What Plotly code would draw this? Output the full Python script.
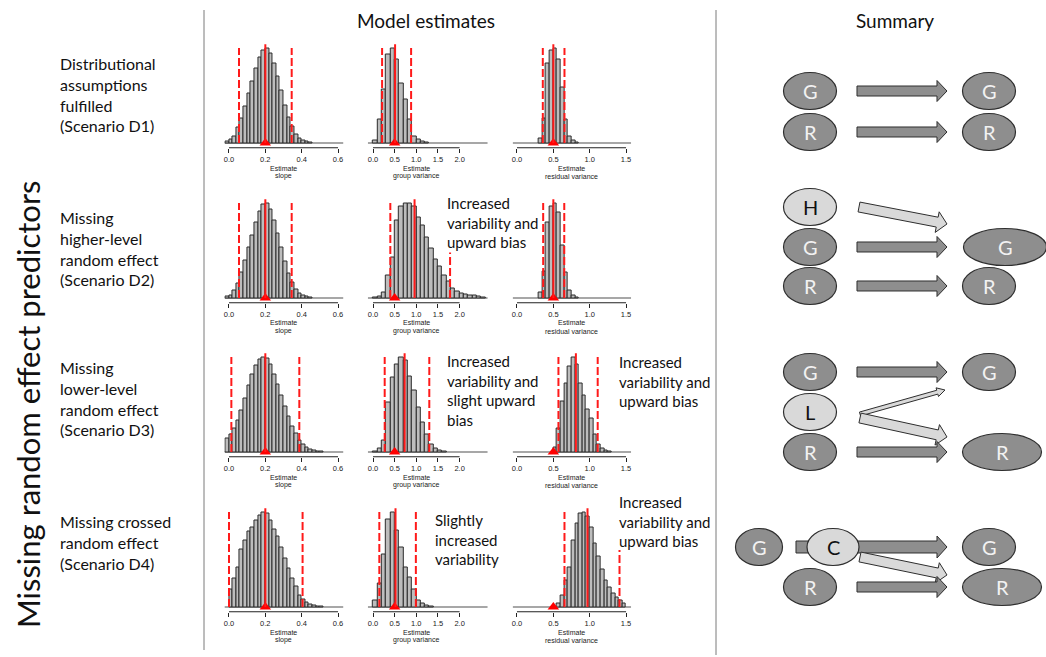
import math
import plotly.graph_objects as go

W, H = 1046, 657

# ---------------- data ----------------
scenarios = ["D1", "D2", "D3", "D4"]
param_labels = ["slope", "group variance", "residual variance"]
bin_width = [0.02, 0.1, 0.05]

# relative bin heights (left edge of first bin given separately)
d1_slope_start = -0.02
d1_slope = [2, 4, 7, 16, 26, 38, 52, 65, 78, 90, 97, 100, 94, 84, 70, 55, 40, 27, 17, 9, 5, 3, 1.5, 1]
d2_slope_start = -0.02
d2_slope = [2, 3, 8, 15, 27, 40, 53, 66, 80, 91, 98, 100, 93, 82, 68, 53, 38, 26, 16, 9, 5, 2.5, 1.5, 1]
d3_slope_start = -0.02
d3_slope = [14, 18, 25, 33, 44, 56, 70, 82, 91, 97, 100, 98, 92, 82, 71, 60, 48, 37, 27, 19, 12, 8, 5, 3, 2, 1, 0.5]
d4_slope_start = 0.0
d4_slope = [18, 30, 42, 61, 70, 79, 84, 91, 96, 100, 98, 91, 82, 74, 63, 51, 41, 30, 22, 12, 8, 5, 3, 1.5, 1, 1]

d1_group_start = 0.0
d1_group = [3, 25, 56, 93, 100, 88, 63, 46, 25, 7, 4, 2, 1]
d2_group_start = 0.0
d2_group = [1, 2, 6, 24, 43, 82, 96, 100, 99, 96, 85, 76, 64, 52, 41, 33, 24, 17, 10, 7, 5, 4, 3, 2.5, 2, 1]
d3_group_start = 0.0
d3_group = [1, 4, 12, 52, 78, 92, 100, 96, 80, 65, 47, 31, 18, 8, 4, 2, 1]
d4_group_start = 0.0
d4_group = [7, 25, 55, 92, 100, 81, 63, 42, 31, 18, 7, 4, 2, 1]

d1_resid_start = 0.30
d1_resid = [5, 26, 84, 97, 100, 88, 58, 25, 7, 3, 1]
d2_resid_start = 0.30
d2_resid = [6, 28, 80, 96, 100, 90, 55, 27, 8, 3, 1]
d3_resid_start = 0.50
d3_resid = [5, 25, 53, 72, 90, 100, 92, 72, 60, 45, 35, 18, 8, 4, 2, 1]
d4_resid_start = 0.55
d4_resid = [4, 12, 28, 42, 70, 88, 98, 100, 95, 84, 67, 53, 39, 28, 21, 14, 10, 7, 4]

true_values = [0.2, 0.5, 0.5]
mean_estimates = [[0.2, 0.51, 0.5], [0.2, 0.96, 0.5], [0.2, 0.73, 0.81], [0.2, 0.52, 0.97]]
lower_q = [[0.055, 0.21, 0.355], [0.055, 0.40, 0.36], [0.013, 0.27, 0.57], [0.0, 0.146, 0.653]]
upper_q = [[0.345, 0.88, 0.653], [0.345, 1.78, 0.65], [0.387, 1.30, 1.11], [0.405, 0.99, 1.41]]
upper_q_height = [[100, 100, 100], [100, 48, 100], [100, 100, 100], [100, 100, 60]]

tick_vals = [[0, 0.2, 0.4, 0.6], [0, 0.5, 1.0, 1.5, 2.0], [0, 0.5, 1.0, 1.5]]
tick_text = [["0.0", "0.2", "0.4", "0.6"], ["0.0", "0.5", "1.0", "1.5", "2.0"], ["0.0", "0.5", "1.0", "1.5"]]

hist_data = [
    [(d1_slope_start, d1_slope), (d1_group_start, d1_group), (d1_resid_start, d1_resid)],
    [(d2_slope_start, d2_slope), (d2_group_start, d2_group), (d2_resid_start, d2_resid)],
    [(d3_slope_start, d3_slope), (d3_group_start, d3_group), (d3_resid_start, d3_resid)],
    [(d4_slope_start, d4_slope), (d4_group_start, d4_group), (d4_resid_start, d4_resid)],
]

row_labels = [
    "Distributional<br>assumptions<br>fulfilled<br>(Scenario D1)",
    "Missing<br>higher-level<br>random effect<br>(Scenario D2)",
    "Missing<br>lower-level<br>random effect<br>(Scenario D3)",
    "Missing crossed<br>random effect<br>(Scenario D4)",
]

# ---------------- layout geometry (pixels) ----------------
col_zero_px = [229, 373, 517]
col_scale = [181.7, 43.3, 72.7]
col_range = [[-0.025, 0.63], [-0.12, 2.65], [-0.06, 1.57]]
row_base_px = [143, 298, 452, 607]
PX_PER_UNIT = 0.95
Y_LO, Y_HI = -5.0, 110.0

FONT_TXT = "Lato"
FONT_AX = "Liberation Sans"


def px_x(p):
    return p / W


def px_y(p):
    return 1 - p / H


def text(txt, xp, yp, size, color="#111", family=FONT_TXT, xanchor="center", angle=0, align="center"):
    annotations.append(dict(text=txt, x=px_x(xp), y=px_y(yp), xref="paper", yref="paper",
                            xanchor=xanchor, yanchor="middle", align=align, showarrow=False,
                            textangle=angle, font=dict(family=family, size=size, color=color)))


fig = go.Figure()
shapes = []
annotations = []
layout_axes = {}

for r in range(4):
    B = row_base_px[r]
    for c in range(3):
        k = r * 3 + c + 1
        xa = "x" if k == 1 else f"x{k}"
        ya = "y" if k == 1 else f"y{k}"
        lo, hi = col_range[c]
        x0p = col_zero_px[c] + col_scale[c] * lo
        x1p = col_zero_px[c] + col_scale[c] * hi
        y_bot = B - Y_LO * PX_PER_UNIT
        y_top = B - Y_HI * PX_PER_UNIT
        layout_axes["xaxis" if k == 1 else f"xaxis{k}"] = dict(
            domain=[px_x(x0p), px_x(x1p)], range=[lo, hi], anchor=ya,
            tickvals=tick_vals[c], ticktext=tick_text[c], ticks="outside",
            ticklen=4, tickwidth=1, tickcolor="#222", showgrid=False, zeroline=False,
            showline=False, tickfont=dict(family=FONT_AX, size=7.5, color="#222"),
            fixedrange=True,
        )
        layout_axes["yaxis" if k == 1 else f"yaxis{k}"] = dict(
            domain=[px_y(y_bot), px_y(y_top)], range=[Y_LO, Y_HI], anchor=xa,
            visible=False, fixedrange=True,
        )
        start, heights = hist_data[r][c]
        bw = bin_width[c]
        centers = [start + bw * (i + 0.5) for i in range(len(heights))]
        fig.add_trace(go.Bar(
            x=centers, y=heights, width=bw, xaxis=xa, yaxis=ya,
            marker=dict(color="#bdbdbd", line=dict(color="#2b2b2b", width=1)),
            hoverinfo="skip",
        ))
        # baseline
        shapes.append(dict(type="line", xref=xa, yref=ya, x0=lo, x1=hi, y0=0, y1=0,
                           line=dict(color="#8a8a8a", width=1.3), layer="below"))
        # axis line from first to last tick
        shapes.append(dict(type="line", xref=xa, yref="paper", x0=tick_vals[c][0], x1=tick_vals[c][-1],
                           y0=px_y(y_bot), y1=px_y(y_bot), line=dict(color="#222", width=1)))
        # red lines
        shapes.append(dict(type="line", xref=xa, yref=ya, x0=lower_q[r][c], x1=lower_q[r][c], y0=0, y1=100,
                           line=dict(color="#ff1a1a", width=2, dash="8px,3px")))
        shapes.append(dict(type="line", xref=xa, yref=ya, x0=upper_q[r][c], x1=upper_q[r][c], y0=0,
                           y1=upper_q_height[r][c], line=dict(color="#ff1a1a", width=2, dash="8px,3px")))
        shapes.append(dict(type="line", xref=xa, yref=ya, x0=mean_estimates[r][c], x1=mean_estimates[r][c],
                           y0=0, y1=104, line=dict(color="#ff1a1a", width=2)))
        fig.add_trace(go.Scatter(
            x=[true_values[c]], y=[0], xaxis=xa, yaxis=ya, mode="markers",
            marker=dict(symbol="triangle-up", size=10, color="#ff0000"),
            cliponaxis=False, hoverinfo="skip",
        ))
        # axis title
        cxp = (col_zero_px[c] + col_scale[c] * tick_vals[c][0] + col_zero_px[c] + col_scale[c] * tick_vals[c][-1]) / 2
        text("Estimate", cxp, B + 25, 7, "#222", FONT_AX)
        text(param_labels[c], cxp, B + 33, 7, "#222", FONT_AX)

# ---------------- text ----------------
text("Model estimates", 426, 20, 19)
text("Summary", 895, 20, 19)
text("Missing random effect predictors", 28, 404, 31, angle=-90)

row_label_center = [94, 248, 398, 542]
for r in range(4):
    text(row_labels[r], 58, row_label_center[r], 16, xanchor="left", align="left")

notes = [
    ("Increased<br>variability and<br>upward bias", 445, 222),
    ("Increased<br>variability and<br>slight upward<br>bias", 445, 390),
    ("Increased<br>variability and<br>upward bias", 617, 381),
    ("Slightly<br>increased<br>variability", 433, 539),
    ("Increased<br>variability and<br>upward bias", 617, 521),
]
for txt, xp, yp in notes:
    text(txt, xp, yp, 15, xanchor="left", align="left")

# dividers
shapes.append(dict(type="line", xref="paper", yref="paper", x0=px_x(204), x1=px_x(204), y0=px_y(10),
                   y1=px_y(650), line=dict(color="#7a7a7a", width=1)))
shapes.append(dict(type="line", xref="paper", yref="paper", x0=px_x(716), x1=px_x(716), y0=px_y(10),
                   y1=px_y(655), line=dict(color="#7a7a7a", width=1)))

# ---------------- summary diagram ----------------
DARK = "#8e8e8e"
LIGHT = "#d9d9d9"
EDGE = "#2e2e2e"


def ellipse(cx, cy, w, h, fill):
    shapes.append(dict(type="circle", xref="paper", yref="paper", x0=px_x(cx - w / 2), x1=px_x(cx + w / 2),
                       y0=px_y(cy + h / 2), y1=px_y(cy - h / 2), fillcolor=fill,
                       line=dict(color=EDGE, width=1.2)))


def arrow(x0, y0, x1, y1, fill, sw=5, hw=10.5, hl=10):
    dx, dy = x1 - x0, y1 - y0
    L = math.hypot(dx, dy)
    ux, uy = dx / L, dy / L
    nx, ny = -uy, ux
    bx, by = x1 - ux * hl, y1 - uy * hl
    pts = [(x0 + nx * sw, y0 + ny * sw), (bx + nx * sw, by + ny * sw), (bx + nx * hw, by + ny * hw),
           (x1, y1), (bx - nx * hw, by - ny * hw), (bx - nx * sw, by - ny * sw), (x0 - nx * sw, y0 - ny * sw)]
    path = "M " + " L ".join(f"{px_x(a):.5f},{px_y(b):.5f}" for a, b in pts) + " Z"
    shapes.append(dict(type="path", xref="paper", yref="paper", path=path, fillcolor=fill,
                       line=dict(color=EDGE, width=1)))


def label(txt, cx, cy, color):
    text(txt, cx, cy, 20, color)


EW, EH = 53, 37
# row 1
for cy, t in [(91, "G"), (132, "R")]:
    ellipse(810, cy, EW, EH, DARK); label(t, 810, cy, "#f2f2f2")
    arrow(857, cy, 947, cy, DARK)
    ellipse(989, cy, EW, EH, DARK); label(t, 989, cy, "#f2f2f2")
# row 2
ellipse(810, 207, EW, EH, LIGHT); label("H", 810, 207, "#111")
ellipse(810, 247, EW, EH, DARK); label("G", 810, 247, "#f2f2f2")
ellipse(810, 286, EW, EH, DARK); label("R", 810, 286, "#f2f2f2")
arrow(859, 207, 947, 224, LIGHT)
arrow(857, 247, 947, 247, DARK)
arrow(857, 286, 947, 286, DARK)
ellipse(1005, 247, 83, EH, DARK); label("G", 1005, 247, "#f2f2f2")
ellipse(989, 286, EW, EH, DARK); label("R", 989, 286, "#f2f2f2")
# row 3
ellipse(810, 372, EW, EH, DARK); label("G", 810, 372, "#f2f2f2")
ellipse(810, 412, EW, EH, LIGHT); label("L", 810, 412, "#111")
ellipse(810, 452, EW, EH, DARK); label("R", 810, 452, "#f2f2f2")
arrow(857, 372, 947, 372, DARK)
arrow(860, 414, 945, 390, LIGHT, sw=2, hw=4.5, hl=8)
arrow(860, 418, 947, 437, LIGHT)
arrow(857, 452, 947, 452, DARK)
ellipse(989, 372, EW, EH, DARK); label("G", 989, 372, "#f2f2f2")
ellipse(1002, 452, 79, EH, DARK); label("R", 1002, 452, "#f2f2f2")
# row 4
ellipse(759, 547, 47, EH, DARK); label("G", 759, 547, "#f2f2f2")
arrow(796, 547, 947, 547, DARK, sw=6, hw=11)
ellipse(833, 547, 52, EH, LIGHT); label("C", 833, 547, "#111")
arrow(860, 557, 947, 575, LIGHT)
ellipse(810, 587, EW, EH, DARK); label("R", 810, 587, "#f2f2f2")
arrow(857, 587, 947, 587, DARK)
ellipse(989, 547, EW, EH, DARK); label("G", 989, 547, "#f2f2f2")
ellipse(1002, 587, 79, EH, DARK); label("R", 1002, 587, "#f2f2f2")

fig.update_layout(
    width=W, height=H, margin=dict(l=0, r=0, t=0, b=0),
    paper_bgcolor="white", plot_bgcolor="rgba(0,0,0,0)", showlegend=False,
    bargap=0, shapes=shapes, annotations=annotations, **layout_axes,
)

fig.write_html("out.html")
